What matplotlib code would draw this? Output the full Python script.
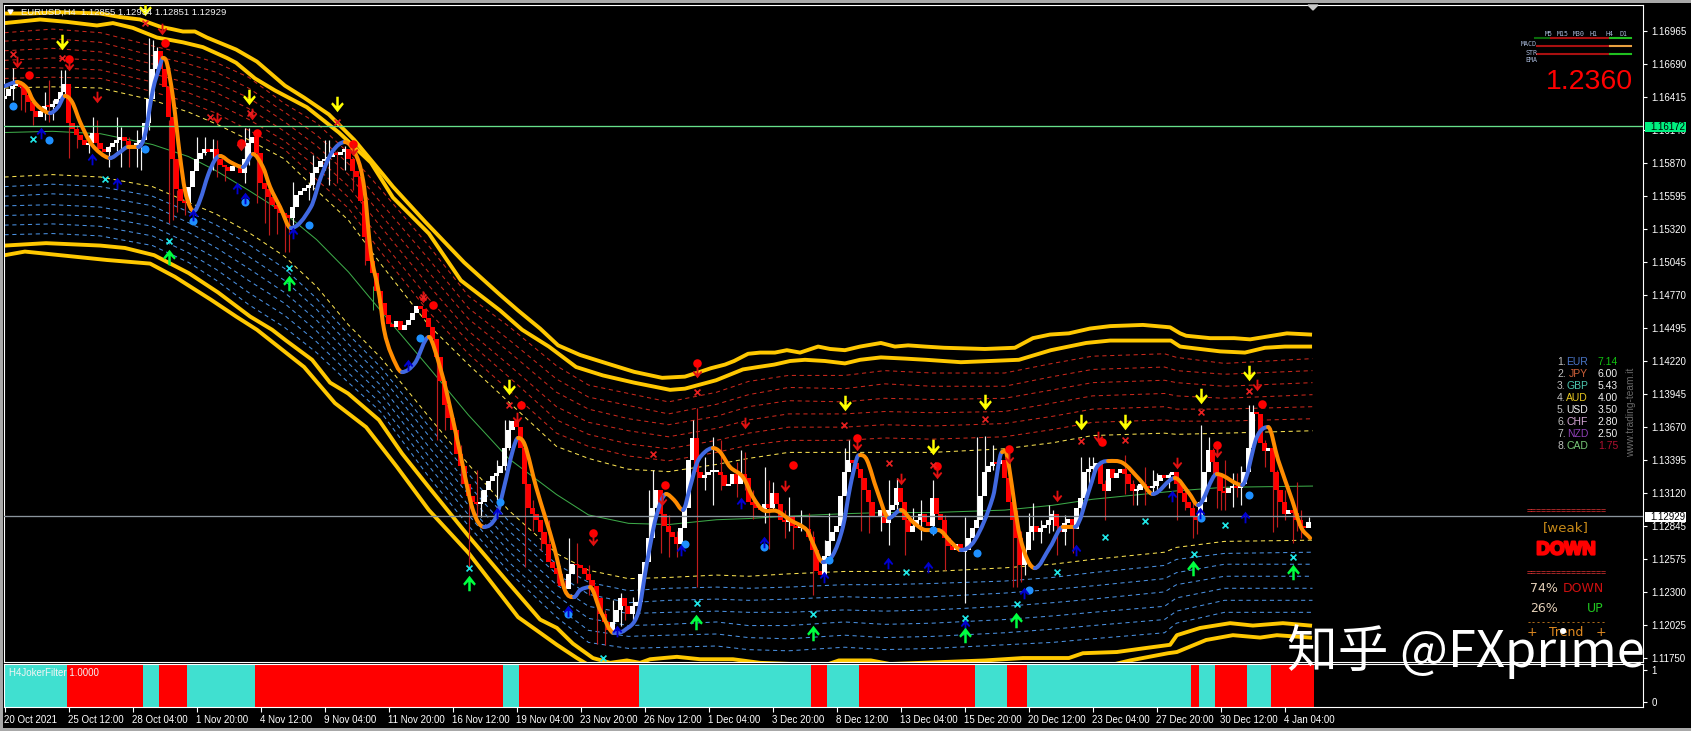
import numpy as np
import matplotlib
matplotlib.use("Agg")
import matplotlib.pyplot as plt
import matplotlib.patheffects as pe
from matplotlib.path import Path
from matplotlib.patches import Rectangle, PathPatch

W, H = 1691, 731
# All levels below are in pips above 1.10000
gold_top_outer_bar = [0.1,6.4,13.9,23.9,28.9,33.9,38.9,41.9,44.6,47.6,50.6,57.9,63.1,70.1,74.9,81.1,87.4,94.4,97.1,105.1,114.9,123.9,128.4,133.9,138.4,143.9,150.6,157.4,164.4,170.1,173.9,176.6,180.1,182.4,185.9,188.9,192.6,195.6,198.9,203.4,206.4,210.1,213.9,219.1,222.6,225.9,230.1,234.9,245.1,252.6,257.1,261.4,266.1,271.4,276.4,284.6,291.4,293.9,295.4,301.4,307.4,311.4,315.1,320.6,326.4]
gold_top_outer = [711,711,712,711,708,706,700,698,696,696,691,681,671,651,641,627,606,578,567,538,504,477,464,449,435,427,420,413,408,409,413,416,419,422,428,429,429,431,429,434,432,431,434,437,434,435,434,433,432,433,441,444,445,449,451,452,450,445,443,441,441,440,442,445,444]
gold_top_inner_bar = [0.1,8.9,15.6,23.1,27.1,32.1,38.1,44.6,49.6,55.6,57.9,62.6,67.6,75.6,83.6,91.6,97.1,106.1,114.1,123.9,129.4,136.1,142.9,149.6,157.4,166.4,170.1,177.9,184.6,188.4,192.4,196.4,200.1,205.1,210.1,213.9,219.1,225.1,230.4,239.1,253.6,257.6,261.6,270.4,276.4,281.6,291.6,293.9,303.9,310.1,315.1,320.1,326.4]
gold_top_inner = [703,706,704,701,703,699,691,687,683,674,670,657,647,633,612,587,558,528,489,464,448,434,417,410,404,398,399,406,415,417,419,422,423,422,420,423,425,424,423,421,423,427,431,437,439,439,439,434,430,429,433,434,434]
gold_low_inner_bar = [0.1,10.4,23.9,30.1,37.4,46.1,53.4,61.4,66.9,70.4,76.9,81.4,85.9,93.6,99.4,106.1,116.1,126.1,133.9,138.1,142.1,147.1,151.4,155.6,158.9,161.4,168.1,173.9,182.1,188.9,205.1,208.6,216.6,221.4,245.1,254.6,266.1,269.6,278.1,284.6,291.4,293.1,298.9,306.4,312.1,319.6,326.4]
gold_low_inner = [518,520,518,516,510,495,479,459,448,439,423,404,395,373,345,317,276,237,207,200,187,175,171,173,171,174,176,174,174,171,169,173,173,170,173,175,175,179,180,183,186,194,200,204,202,204,202]
gold_low_outer_bar = [0.1,5.1,25.6,36.4,42.6,51.6,57.9,63.1,74.9,82.6,90.4,98.1,106.1,116.1,128.4,133.9,138.1,143.1,149.1,173.9,248.9,273.9,281.4,290.9,293.1,300.4,307.1,313.9,318.1,326.4]
gold_low_outer = [510,513,506,503,492,473,459,448,417,387,367,334,298,262,209,196,186,175,163,157,163,167,173,179,180,190,194,192,194,192]

band_bars = [0,12,24,37,46,53,61,70,78,86,94,106,116,126,138,146,156,166,178,186,196,210,220,232,250,262,272,290,293,305,327]
red6 = [695,698,695,684,677,670,658,636,620,595,565,518,476,451,418,402,395,388,396,405,410,410,414,412,412,420,426,428,425,420,424]
red5 = [688,690,687,676,669,662,649,629,610,586,554,507,466,440,407,392,385,378,386,394,400,399,403,401,401,409,415,417,414,411,414]
red4 = [680,682,679,669,661,653,641,621,601,577,544,496,457,430,396,382,374,369,376,384,389,388,391,390,391,398,404,406,404,401,404]
red3 = [672,674,672,661,653,645,632,613,592,567,534,485,447,419,384,371,364,359,366,373,378,378,380,379,380,387,393,395,393,391,394]
red2 = [665,666,664,654,645,636,623,605,583,558,523,474,438,409,373,361,353,349,356,362,367,367,369,368,370,376,382,384,382,382,384]
red1 = [657,658,657,646,637,628,614,598,573,549,513,463,428,398,362,351,343,339,346,352,356,356,358,357,359,365,371,373,372,372,374]
yellow_up = [649,650,649,639,629,619,606,590,564,539,503,452,419,388,351,341,332,330,336,341,346,346,346,346,349,354,360,362,361,362,364]
mid_green = [612,613,611,602,592,580,564,545,523,496,464,417,377,341,311,294,287,286,290,291,293,295,296,296,298,302,307,313,314,317,318]
yellow_dn = [575,577,575,567,554,544,529,509,484,452,425,376,336,298,262,248,241,242,244,243,245,247,247,247,250,253,257,263,267,272,273]
blue1 = [567,569,567,559,546,535,519,499,474,444,417,368,328,289,253,238,231,233,234,233,234,236,236,237,239,242,246,252,257,262,263]
blue2 = [559,561,559,551,537,526,509,489,465,436,410,360,319,281,245,228,221,223,224,223,224,226,225,226,229,232,235,241,246,253,253]
blue3 = [551,552,550,542,529,516,499,479,456,428,402,351,311,272,236,218,212,213,214,213,213,215,214,215,218,221,224,230,236,243,243]
blue4 = [543,544,542,534,520,507,489,470,447,420,395,343,302,264,227,208,202,203,205,202,202,205,203,204,207,210,213,218,225,233,233]
blue5 = [535,536,534,526,512,498,479,460,438,412,387,335,294,255,218,198,193,194,195,192,191,194,192,193,196,199,202,207,214,223,223]
blue6 = [527,528,526,518,504,489,469,450,429,404,380,326,285,247,209,188,183,184,185,182,181,184,182,183,186,188,191,196,204,213,213]

closes = [
642,648,651,653,650,643,637,630,625,630, 634,633,636,640,646,652,620,615,610,606,
602,603,612,603,598,596,600,603,606,608, 605,602,600,603,606,620,640,665,680,665,
650,625,590,565,555,553,567,580,590,595, 598,596,598,590,585,583,580,584,585,578,
590,603,608,595,570,565,558,552,548,545, 543,541,550,560,563,566,568,578,583,588,
590,592,595,593,596,598,590,580,575,555, 525,505,495,480,470,460,453,450,455,448,
452,456,462,468,465,458,450,440,425,405, 385,375,365,345,335,320,310,305,303,305,
315,322,326,329,335,350,365,372,367,350, 320,300,295,290,280,270,255,250,245,235,
232,245,253,252,250,245,240,235,225,212, 205,198,205,215,225,218,212,218,222,245,
255,275,300,315,295,285,280,276,270,283, 300,340,358,330,325,327,330,330,330,327,
318,320,328,320,328,325,305,302,300,298, 303,300,312,303,290,288,292,285,283,284,
282,276,265,247,244,260,272,280,285,310, 330,340,337,332,325,315,305,292,293,298,
287,298,302,316,305,290,280,285,290,295, 288,285,308,295,290,275,268,265,270,263,
265,275,283,290,310,330,335,338,336,340, 325,305,290,275,252,265,280,285,280,283,
286,290,295,285,280,287,291,282,300,308, 330,332,335,337,320,314,332,325,329,332,
328,320,314,315,320,318,316,318,322,327, 325,327,330,320,312,305,300,293,290,305,
330,348,338,328,314,312,316,318,316,320, 330,350,380,378,354,347,350,330,315,305,
295,298,296,290,285,283,288]
first_open = 640

wick_bar = [2,4,5,7,10,11,12,14,15,16,18,21,22,23,26,28,29,31,33,34,36,37,38,41,42,43,45,48,50,52,53,55,60,61,63,65,66,68,70,71,72,76,77,80,81,83,85,87,90,
108,110,114,116,118,119,123,125,126,130,132,134,136,138,140,141,143,146,148,150,152,154,155,157,161,162,164,166,168,172,173,175,177,179,183,184,185,187,190,191,192,195,196,197,199,201,202,205,206,210,211,214,216,219,221,223,225,227,229,232,235,240,243,245,247,
252,253,254,255,256,257,259,261,262,263,265,267,269,271,272,275,280,282,283,285,287,288,291,293,295,297,298,299,301,302,303,304,305,307,308,309,311,312,315,317,318,320,322,323,324,326]
wick_high = [666,651,649,635,646,656,639,664,664,645,618,610,625,622,601,625,617,608,614,600,691,689,683,622,597,564,556,608,608,607,606,585,616,616,606,568,564,552,543,543,571,570,593,606,606,597,601,589,531,
435,398,352,315,331,315,340,373,373,323,306,281,290,248,240,275,271,252,227,215,223,229,223,226,315,331,302,294,281,373,383,342,359,356,338,348,346,315,334,323,321,298,309,290,298,296,281,273,296,350,356,331,315,298,323,325,302,300,306,323,294,292,359,360,352,
306,298,281,265,296,304,290,302,298,290,294,286,342,342,342,323,344,323,319,334,331,329,329,325,315,306,298,369,359,350,335,327,340,329,329,335,385,385,356,340,331,315,306,321,298,292]
wick_low = [639,631,629,618,622,621,622,645,643,591,599,595,606,597,583,597,583,583,583,581,614,664,672,537,539,546,543,585,593,581,575,572,570,585,553,537,527,528,513,513,535,556,564,581,568,570,581,564,502,
356,365,320,251,292,292,306,331,348,251,281,265,271,237,232,236,237,227,187,186,197,202,207,207,273,290,262,259,259,348,234,315,302,315,309,323,315,291,287,266,298,275,281,266,281,273,227,257,269,323,335,281,279,281,269,298,261,281,273,277,248,221,286,327,331,
234,234,238,244,273,273,271,279,281,261,269,262,294,315,327,290,311,302,302,302,313,315,316,290,298,275,278,298,331,327,300,298,298,301,309,302,331,356,334,280,284,290,271,281,275,284]
green_tick_bar = 92.1
green_tick_low = 464
green_tick_high = 484

trend_bars = [0.1,3.1,5.6,7.1,8.9,11.4,13.4,15.1,16.9,18.9,21.4,23.9,26.4,28.9,30.9,33.4,35.1,37.1,38.9,39.6,40.6,42.1,43.9,45.1,46.4,47.4,48.9,50.9,52.6,53.9,56.4,59.6,62.1,64.6,66.4,68.9,71.6,76.6,79.1,81.9,85.1,88.1,89.9,91.6,93.6,94.9,96.6,99.4,102.6,106.1,107.6,110.4,113.9,117.1,119.9,122.9,124.9,127.1,128.4,130.1,132.9,137.4,140.1,142.4,143.9,146.4,148.9,152.4,155.1,158.4,160.6,162.9,165.4,167.4,169.6,171.4,173.1,175.1,177.1,178.9,181.4,184.6,187.1,189.6,193.1,196.4,200.6,202.1,204.6,207.1,209.6,211.4,213.1,213.9,215.6,218.1,221.1,224.1,227.1,230.4,233.4,236.9,239.1,242.6,247.1,249.4,250.6,253.9,257.6,261.4,264.6,267.6,271.4,273.1,275.9,279.6,283.9,287.1,292.6,296.1,298.4,303.1,309.4,313.1,315.9,318.4,321.9,324.1,326.4]
trend_vals = [650.7,654,649,639,632.4,628.2,633.2,642.4,637.4,620.7,604.1,595,590.8,595.8,600,600,609.9,647.4,668.1,674,669.8,641.5,591.6,564.2,550,546.7,555.9,576.7,589.1,592.5,587.5,583.3,594.1,583.3,566.7,550,532.6,550,575,595.8,604.1,591.6,566.7,511.8,478.5,447.8,428.6,412.8,420.3,442,431.1,397.9,345.5,298.1,284,292.3,317.2,348,358,352.1,317.2,267.3,231.5,225.7,231.5,234,214.9,195.8,198.3,212.4,254,292.3,311.4,306.4,298.1,317.2,337.2,346.3,349.6,346.3,333.8,325.5,308.9,298.1,297.2,289.8,281.4,270.6,254.8,260.7,284,317.2,341.3,343.8,339.7,314.7,291.4,298.1,288.1,281.4,281.4,270.6,264.8,273.1,308.9,346.3,343.8,275.6,249.8,267.3,284,284,317.2,333.8,338.8,337.2,323,311.4,324.7,312.2,302.2,328,318.9,358.8,367.1,339.7,306.4,284,274.8]
trend_turns = [3.1,11.4,15.1,26.4,30.9,33.4,39.6,47.4,53.9,59.6,62.1,71.6,85.1,99.4,106.1,119.9,128.4,142.4,146.4,152.4,165.4,169.6,177.1,204.6,213.9,221.1,224.1,239.1,249.4,257.6,264.6,267.6,275.9,287.1,292.6,298.4,303.1,309.4,315.9]

yellow_dn_bar = [14.4,35.1,61.1,83.1,126.1,210.1,232.1,245.1,269.1,280.1,299.1,311.1]
yellow_dn_val = [687.3,715.5,641.5,635.7,400.4,387.1,350.5,387.9,371.3,371.3,392.9,412]
green_up_bar = [41.1,71.1,116.1,172.9,202.1,240.1,252.9,297.1,322.1]
green_up_val = [508.5,486.9,237.4,205,195.8,194.1,206.6,249.8,246.5]
cyan_x_bar = [7.1,25.1,41.1,71.1,116.1,149.6,173.1,202.1,225.4,240.1,253.1,263.1,275.1,285.1,297.4,305.1,322.1]
cyan_x_val = [606.6,573.3,521.8,499.3,249.8,175,220.7,211.6,246.5,208.3,219.9,246.5,275.6,288.9,261.5,285.6,259]
red_x_bar = [2.1,14.4,35.1,51.4,61.4,83.1,104.6,126.1,162.1,173.1,209.9,221.1,232.1,245.1,269.1,280.1,299.1,311.1]
red_x_val = [677.3,674,703.1,624.9,628.2,620.7,475.2,385.4,344.6,396.2,368.8,337.2,335.5,373.8,355.5,356.3,379.6,397]
red_dn_bar = [3.1,16.1,39.4,23.1,53.1,61.9,59.1,87.1,128.1,104.6,147.1,164.4,185.1,195.1,213.1,224.1,233.1,263.1,273.4,293.1,303.1,313.1,251.1,173.1]
red_dn_val = [670.6,668.1,698.1,641.5,624.1,627.4,601.6,597.5,374.6,475.2,273.1,306.4,370.4,318,352.1,323.9,328.9,309.7,358.8,337.2,346.3,402,341.3,412.8]
red_dot_bar = [6.1,16.1,40.1,59.1,63.1,87.1,107.1,129.1,147.1,165.1,197.1,213.1,233.1,173.1,251.1,274.4,303.1,314.4]
red_dot_val = [659.8,673.1,686.4,603.3,611.6,602.4,468.6,385.4,279,318.9,335.5,358,334.7,420.3,348.8,354.6,352.1,386.2]
blue_dot_bar = [2.1,11.1,35.1,47.1,60.1,76.1,103.9,123.9,140.9,170.1,189.9,206.1,232.1,243.1,256.1,299.1,311.1]
blue_dot_val = [634,605.8,598.3,538.4,554.2,535.1,441.1,304.7,211.6,269.8,267.3,256.5,281.4,262.3,231.6,291.4,310.6]
navy_up_bar = [9.1,21.9,28.1,47.1,58.1,60.1,72.1,100.9,123.1,140.9,153.1,169.1,184.1,189.9,204.9,220.9,230.9,240.1,254.9,267.9,291.9,298.9,310.1]
navy_up_val = [611.6,590,570,543.4,565.9,557.5,528.4,418.7,295.6,214.1,197.4,264.8,303.9,271.5,242.4,254,250.7,202.4,229.1,264.8,309.7,295.6,292.3]

filter_edges = [0,16,35,39,46,63,125,129,159,202,206,214,243,251,256,297,299,303,311,317,327]
filter_state = [1,0,1,0,1,0,1,0,1,0,1,0,1,0,1,0,1,0,1,0]

price_ticks = ["1.16965","1.16690","1.16415","1.16140","1.15870","1.15595","1.15320","1.15045","1.14770","1.14495","1.14220","1.13945","1.13670","1.13395","1.13120","1.12845","1.12575","1.12300","1.12025","1.11750"]
time_labels = ["20 Oct 2021","25 Oct 12:00","28 Oct 04:00","1 Nov 20:00","4 Nov 12:00","9 Nov 04:00","11 Nov 20:00","16 Nov 12:00","19 Nov 04:00","23 Nov 20:00","26 Nov 12:00","1 Dec 04:00","3 Dec 20:00","8 Dec 12:00","13 Dec 04:00","15 Dec 20:00","20 Dec 12:00","23 Dec 04:00","27 Dec 20:00","30 Dec 12:00","4 Jan 04:00"]
tick_every = 16
last_high = 1.16172
last_close = 1.12929
ranks = ["1.","2.","3.","4.","5.","6.","7.","8."]
currencies = ["EUR","JPY","GBP","AUD","USD","CHF","NZD","CAD"]
strengths = ["7.14","6.00","5.43","4.00","3.50","2.80","2.50","1.75"]
cur_colors = ["#4a76c8","#d0623a","#4cc8b0","#e8c820","#f0f0f0","#d8a8d8","#9040b8","#78c878"]
val_colors = ["#10c010","#f0f0f0","#f0f0f0","#f0f0f0","#f0f0f0","#f0f0f0","#f0f0f0","#b01030"]

def price(a):
    return 1.1 + np.asarray(a, dtype=float) / 10000.0

plt.rcParams['font.family'] = ['Liberation Sans', 'DejaVu Sans']
fig = plt.figure(figsize=(W/100, H/100), dpi=100, facecolor='black')

def fx(p): return p / W
def fy(p): return 1 - p / H

def make_axes(l, t, r, b):
    return fig.add_axes([fx(l), fy(b), (r - l) / W, (b - t) / H], facecolor='black')

ax = make_axes(4, 5, 1643, 662)
sub = make_axes(4, 664, 1643, 707)
xlim = (-0.125, 409.625)
for a in (ax, sub):
    a.set_xlim(*xlim)
    for s in a.spines.values():
        s.set_color('white'); s.set_linewidth(0.8)
ax.set_ylim(1.11717, 1.171804)

for xs, line in [(gold_top_outer_bar, gold_top_outer), (gold_top_inner_bar, gold_top_inner),
                 (gold_low_inner_bar, gold_low_inner), (gold_low_outer_bar, gold_low_outer)]:
    ax.plot(xs, price(line), color='#ffc800', lw=2.8, zorder=2, solid_joinstyle='round')
bars = np.asarray(band_bars)
dash = (0, (4, 3.5))
for line in (red1, red2, red3, red4, red5, red6):
    ax.plot(bars, price(line), color='#c8281c', lw=0.75, ls=dash, zorder=1)
for line in (blue1, blue2, blue3, blue4, blue5, blue6):
    ax.plot(bars, price(line), color='#4a90e0', lw=0.75, ls=dash, zorder=1)
for line in (yellow_up, yellow_dn):
    ax.plot(bars, price(line), color='#f8e050', lw=0.75, ls=dash, zorder=1)
ax.plot(bars, price(mid_green), color='#3ca848', lw=0.75, zorder=1)
ax.vlines([green_tick_bar], price(green_tick_low), price(green_tick_high), colors='#3ca848', lw=0.75, zorder=3.3)

# candles
cl = np.asarray(closes, dtype=float)
op = np.r_[first_open, cl[:-1]]
idx = np.arange(len(cl))
up = cl >= op
body_col = np.where(up, '#ffffff', '#ff0000')
wb = np.asarray(wick_bar)
wick_col = np.where(up[wb], '#f4f4f4', '#c01c1c')
ax.vlines(wb, price(wick_low), price(wick_high), colors=wick_col, lw=0.85, zorder=3)
lo = np.minimum(op, cl)
ht = np.maximum(np.abs(cl - op), 1.5)
ax.bar(idx, ht / 10000.0, bottom=price(lo), width=1.25, color=body_col, linewidth=0, zorder=3.2)

ax.axhline(last_high, color='#66e08a', lw=0.95, zorder=3.5)
ax.axhline(last_close, color='#8a949c', lw=0.95, zorder=3.5)

# fast trend, drawn as Bezier curves through the read points, coloured by direction
tb = np.asarray(trend_bars, dtype=float)
tv = price(trend_vals)
dx = np.diff(tb); dy = np.diff(tv)
sl = dy / dx
tan = np.zeros_like(tb)
tan[0], tan[-1] = sl[0], sl[-1]
for j in range(1, len(tb) - 1):
    tan[j] = 0.0 if sl[j - 1] * sl[j] <= 0 else (dy[j - 1] + dy[j]) / (dx[j - 1] + dx[j])
edges = [tb[0]] + trend_turns + [tb[-1]]
for k in range(len(edges) - 1):
    ids = np.where((tb >= edges[k] - 1e-9) & (tb <= edges[k + 1] + 1e-9))[0]
    verts = [(tb[ids[0]], tv[ids[0]])]; codes = [Path.MOVETO]
    for j in ids[:-1]:
        h = dx[j] / 3
        verts += [(tb[j] + h, tv[j] + tan[j] * h), (tb[j + 1] - h, tv[j + 1] - tan[j + 1] * h), (tb[j + 1], tv[j + 1])]
        codes += [Path.CURVE4] * 3
    ax.add_patch(PathPatch(Path(verts, codes), fill=False, ec='#4169e1' if k % 2 == 0 else '#ff8c00',
                           lw=2.9, capstyle='round', joinstyle='round', zorder=4))

arrow_dn = Path([(-.16,1),(.16,1),(.16,-.2),(.62,.28),(.82,.05),(0,-1),(-.82,.05),(-.62,.28),(-.16,-.2),(-.16,1)], closed=True)
arrow_up = Path([(-.16,-1),(.16,-1),(.16,.2),(.62,-.28),(.82,-.05),(0,1),(-.82,-.05),(-.62,-.28),(-.16,.2),(-.16,-1)], closed=True)
ax.scatter(blue_dot_bar, price(blue_dot_val), s=34, c='#1e90ff', linewidths=0, zorder=5)
ax.scatter(red_dot_bar, price(red_dot_val), s=38, c='#ff0000', linewidths=0, zorder=5)
ax.scatter(red_dn_bar, price(red_dn_val), s=70, c='#e01010', marker=arrow_dn, linewidths=0, zorder=5.1)
ax.scatter(navy_up_bar, price(navy_up_val), s=70, c='#0000d0', marker=arrow_up, linewidths=0, zorder=5.1)
ax.scatter(yellow_dn_bar, price(yellow_dn_val), s=125, c='#ffff00', marker=arrow_dn, linewidths=0, zorder=5.1)
ax.scatter(green_up_bar, price(green_up_val), s=125, c='#00ff40', marker=arrow_up, linewidths=0, zorder=5.1)
ax.scatter(red_x_bar, price(red_x_val), s=18, c='#e82020', marker='x', linewidths=1.2, zorder=5.1)
ax.scatter(cyan_x_bar, price(cyan_x_val), s=18, c='#20e8e8', marker='x', linewidths=1.2, zorder=5.1)

# price scale
tick_vals = [float(t) for t in price_ticks]
ax.yaxis.tick_right()
ax.set_yticks(tick_vals)
ax.set_yticklabels(price_ticks, fontsize=7, color='white')
ax.tick_params(axis='y', colors='white', length=3, width=0.8, pad=3)
ax.set_xticks([])

# filter pane
for k, state in enumerate(filter_state):
    sub.axvspan(filter_edges[k] - 0.5, filter_edges[k + 1] + 0.3, color='#40e0d0' if state else '#ff0000', lw=0, zorder=1)
sub.set_ylim(-0.156, 1.19)
sub.yaxis.tick_right()
sub.set_yticks([0, 1]); sub.set_yticklabels(['0', '1'], fontsize=7, color='white')
sub.tick_params(axis='y', colors='white', length=3, width=0.8, pad=3)
sub.set_xticks(np.arange(len(time_labels)) * tick_every)
sub.set_xticklabels(time_labels, fontsize=7.0, color='white', ha='left')
sub.tick_params(axis='x', colors='white', length=3.5, width=0.8, pad=2.5)

def T(px, py, s, **kw):
    kw.setdefault('va', 'center'); kw.setdefault('ha', 'left')
    kw.setdefault('color', 'white'); kw.setdefault('zorder', 20)
    return fig.text(fx(px), fy(py), s, **kw)

# chart header
T(21, 12.5, "EURUSD,H4  1.12855 1.12934 1.12851 1.12929", fontsize=6.8, color='#f2f2f2')
fig.add_artist(plt.Polygon([(fx(8), fy(10)), (fx(13), fy(10)), (fx(10.5), fy(14))], color='white', zorder=20))
T(9, 673, "H4JokerFilter 1.0000", fontsize=7, color='#f4f4f4')

# last-price boxes
for yp, s, bg in [(127, "1.16172", '#00f080'), (517, "1.12929", '#ffffff')]:
    fig.add_artist(Rectangle((fx(1645), fy(yp + 5)), 41 / W, 10 / H, transform=fig.transFigure, color=bg, lw=0, zorder=19))
    T(1650, yp, s, fontsize=7, color='black')

# timeframe panel
tf_names = ["M5","M15","M30","H1","H4","D1"]
tf_x = [1549,1563,1579,1593,1609,1624]
for x, n in zip(tf_x, tf_names):
    T(x, 34, n, fontsize=4.8, color='#a8b8d8', ha='center', family='DejaVu Sans Mono')
for yy, n in [(44, "MACD"), (53, "STR"), (60, "EMA")]:
    T(1537, yy, n, fontsize=4.8, color='#a8b8d8', ha='right', family='DejaVu Sans Mono')
for yy, segs in [(38, [(1535,1551,'#0a6a0a'),(1551,1610,'#a81010'),(1610,1631,'#20c020')]),
                 (46, [(1537,1610,'#a81010'),(1610,1631,'#e8a040')]),
                 (54, [(1537,1610,'#a81010'),(1610,1631,'#20c020')])]:
    for a_, b_, c_ in segs:
        fig.add_artist(plt.Line2D([fx(a_), fx(b_)], [fy(yy), fy(yy)], color=c_, lw=1.5, zorder=18))
T(1633.5, 82, "1.2360", fontsize=20.5, color='#ff0000', ha='right')

# currency table
for k in range(8):
    yy = 362 + 12 * k
    T(1557, yy, ranks[k], fontsize=7.5, color='#c0c0c0')
    T(1588, yy, currencies[k], fontsize=7.5, color=cur_colors[k], ha='right')
    T(1618, yy, strengths[k], fontsize=7.5, color=val_colors[k], ha='right')
T(1631, 412, "www.trading-team.it", fontsize=7.3, color='#6a6a6a', rotation=90, ha='center')

# signal panel
DV = 'DejaVu Sans'
T(1566.5, 511, "================", fontsize=6, color='#d03030', ha='center', family='DejaVu Sans Mono')
T(1566, 528, "[weak]", fontsize=9.6, color='#c88a18', ha='center', family=DV)
T(1566, 550, "DOWN", fontsize=13.5, color='#ff0000', ha='center', weight='bold', family='Liberation Sans',
  path_effects=[pe.withStroke(linewidth=1.6, foreground='#ff0000')])
T(1566.5, 573, "================", fontsize=6, color='#d03030', ha='center', family='DejaVu Sans Mono')
T(1530, 588, "74%", fontsize=9, color='#e4d0b8', family=DV)
T(1604, 588, "DOWN", fontsize=9, color='#d01010', ha='right', family=DV)
T(1530, 608, "26%", fontsize=9, color='#e4d0b8', family=DV)
T(1604, 608, "UP", fontsize=9, color='#20c820', ha='right', family=DV)
T(1566.5, 623, "----------------", fontsize=6, color='#e08a20', ha='center', family='DejaVu Sans Mono')
T(1532, 633, "+", fontsize=9, color='#e08a20', ha='center', family=DV)
T(1566, 633, "Trend", fontsize=9, color='#e08a20', ha='center', family=DV)
T(1601, 633, "+", fontsize=9, color='#e08a20', ha='center', family=DV)

# watermark
T(1287, 652, "知乎 @FXprime", fontsize=36.5, color='white', zorder=30,
  family=['Noto Sans CJK SC', 'DejaVu Sans'])

# window frame
for rect in [(0, 0, W, 3), (0, 0, 2.5, H), (0, 727.5, W, 3.5)]:
    fig.add_artist(Rectangle((fx(rect[0]), fy(rect[1] + rect[3])), rect[2] / W, rect[3] / H,
                             transform=fig.transFigure, color='#a8a8a8', lw=0, zorder=40))
fig.add_artist(plt.Polygon([(fx(1308), fy(5)), (fx(1318), fy(5)), (fx(1313), fy(10))], color='#c8c8c8', zorder=25))

fig.savefig('out.png', dpi=100, facecolor='black')
